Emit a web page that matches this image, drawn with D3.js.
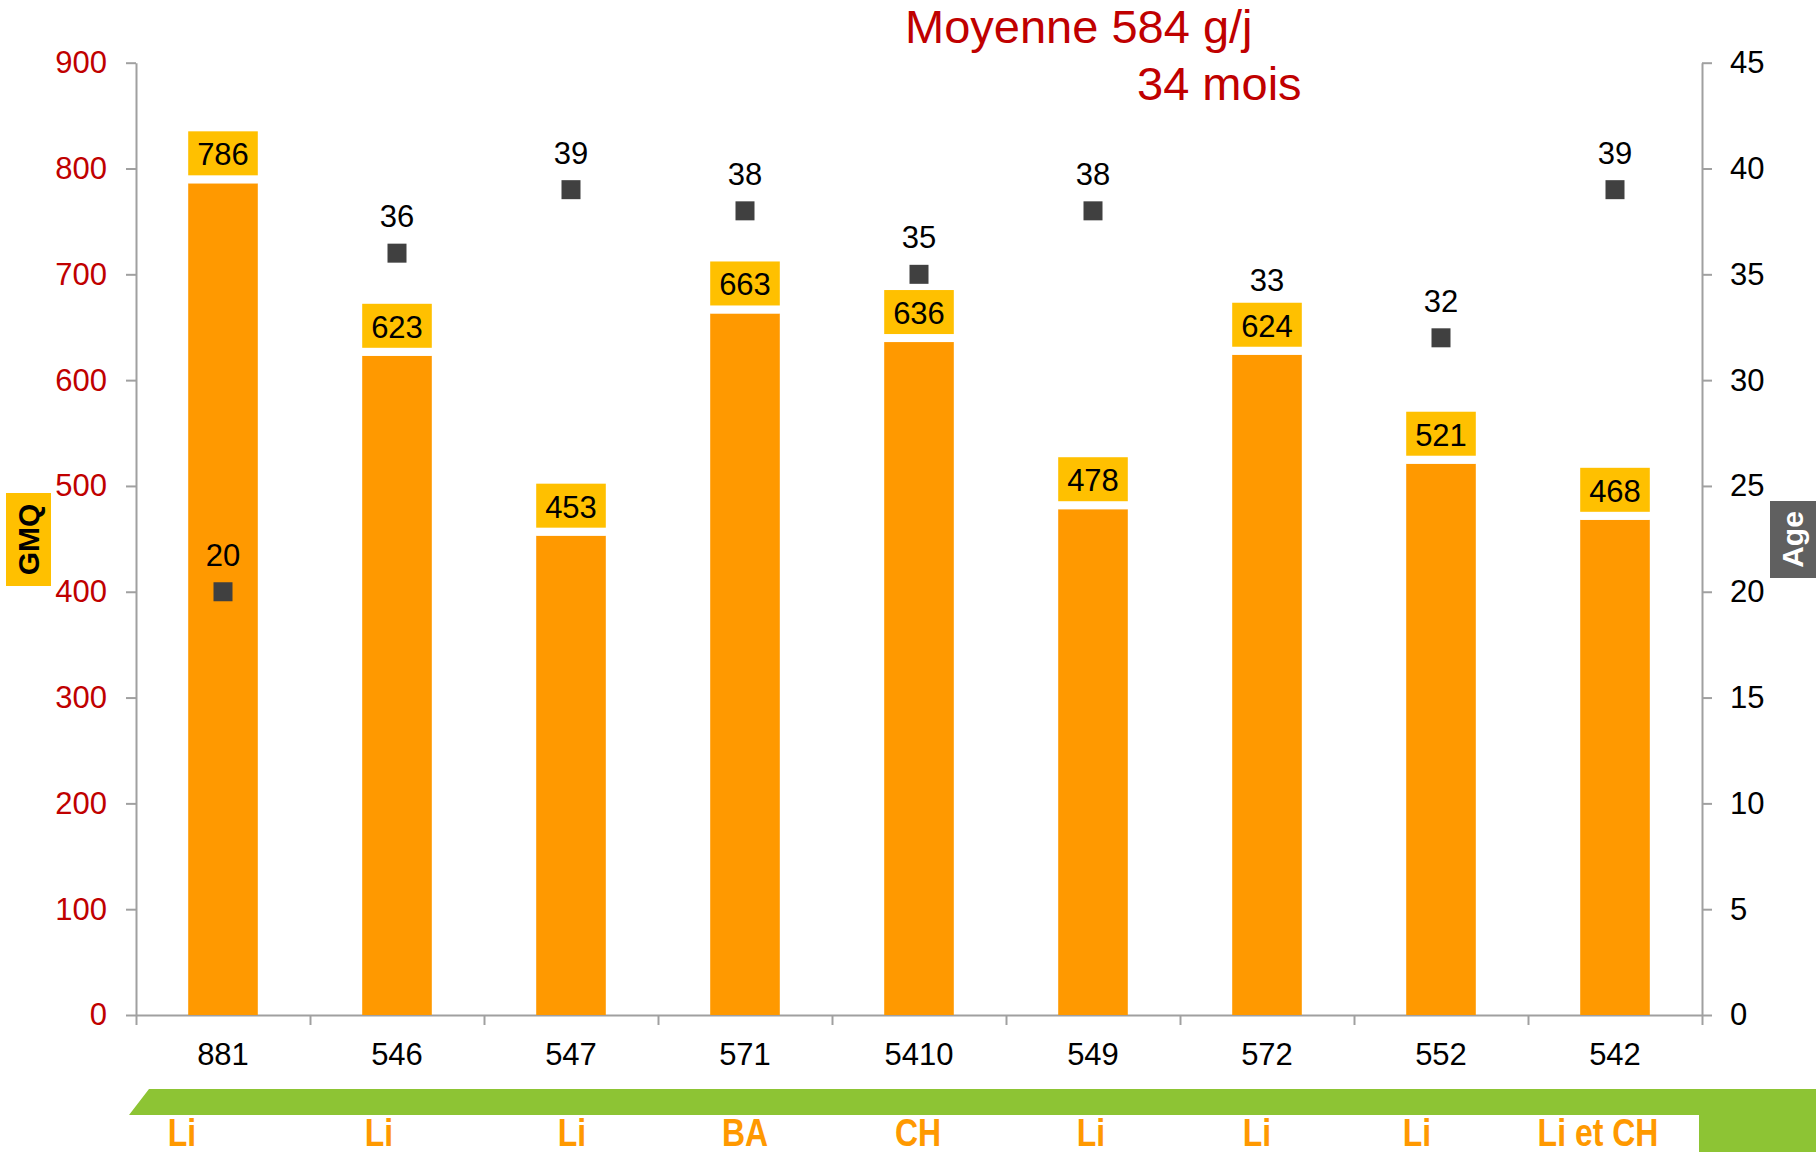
<!DOCTYPE html>
<html>
<head>
<meta charset="utf-8">
<script src="https://cdn.jsdelivr.net/npm/d3@7"></script>
<style>
  html, body { margin: 0; padding: 0; background: #fff; }
  svg { display: block; font-family: "Liberation Sans", Arial, sans-serif; }
</style>
</head>
<body>
<script>
// ---- data ----
const categories = ["881", "546", "547", "571", "5410", "549", "572", "552", "542"];
const gmq = [786, 623, 453, 663, 636, 478, 624, 521, 468];
const age = [20, 36, 39, 38, 35, 38, 33, 32, 39];
const breeds = ["Li", "Li", "Li", "BA", "CH", "Li", "Li", "Li", "Li et CH"];
const leftTicks = [0, 100, 200, 300, 400, 500, 600, 700, 800, 900];
const rightTicks = [0, 5, 10, 15, 20, 25, 30, 35, 40, 45];
const titleLine1 = "Moyenne 584 g/j";
const titleLine2 = "34 mois";
const leftTitle = "GMQ";
const rightTitle = "Age";

// ---- layout ----
const W = 1816, H = 1152;
const plot = { left: 136, right: 1702, top: 62.7, bottom: 1015 };
const breedOffsets = [-41, -18, 1, 0, -1, -2, -10, -24, -17];

const svg = d3.select("body").append("svg").attr("width", W).attr("height", H);

const x = d3.scaleBand().domain(categories).range([plot.left, plot.right]).padding(0);
const yL = d3.scaleLinear().domain([0, 900]).range([plot.bottom, plot.top]);
const yR = d3.scaleLinear().domain([0, 45]).range([plot.bottom, plot.top]);
const xIdx = d3.scaleLinear().domain([0, categories.length]).range([plot.left, plot.right]);

const axisColor = "#A0A0A0";
const red = "#C00000";

// Left axis
const gL = svg.append("g").attr("transform", `translate(${plot.left},0)`)
  .call(d3.axisLeft(yL).tickValues(leftTicks).tickSize(10).tickPadding(19).tickSizeOuter(0));
gL.select(".domain").attr("stroke", axisColor).attr("stroke-width", 2);
gL.selectAll(".tick line").attr("stroke", axisColor).attr("stroke-width", 2);
gL.selectAll(".tick text").attr("fill", red).attr("font-size", 31)
  .attr("font-family", "'Liberation Sans', Arial, sans-serif");

// Right axis
const gR = svg.append("g").attr("transform", `translate(${plot.right},0)`)
  .call(d3.axisRight(yR).tickValues(rightTicks).tickSize(10).tickPadding(18).tickSizeOuter(0));
gR.select(".domain").attr("stroke", axisColor).attr("stroke-width", 2);
gR.selectAll(".tick line").attr("stroke", axisColor).attr("stroke-width", 2);
gR.selectAll(".tick text").attr("fill", "#000").attr("font-size", 31)
  .attr("font-family", "'Liberation Sans', Arial, sans-serif");

// Bottom axis (ticks at band boundaries)
const gB = svg.append("g").attr("transform", `translate(0,${plot.bottom})`)
  .call(d3.axisBottom(xIdx).tickValues(d3.range(categories.length + 1)).tickSize(10).tickFormat("").tickSizeOuter(0));
gB.select(".domain").attr("stroke", axisColor).attr("stroke-width", 2);
gB.selectAll(".tick line").attr("stroke", axisColor).attr("stroke-width", 2);

// Category labels
svg.append("g").selectAll("text").data(categories).join("text")
  .attr("x", d => x(d) + x.bandwidth() / 2)
  .attr("y", 1065)
  .attr("text-anchor", "middle")
  .attr("font-size", 31)
  .attr("fill", "#000")
  .text(d => d);

// Bars
const barW = x.bandwidth() * 0.4;
svg.append("g").selectAll("rect").data(gmq).join("rect")
  .attr("x", (d, i) => x(categories[i]) + (x.bandwidth() - barW) / 2)
  .attr("y", d => yL(d))
  .attr("width", barW)
  .attr("height", d => yL(0) - yL(d))
  .attr("fill", "#FF9900");

// Age markers (drawn under the data labels)
const mk = 19;
svg.append("g").selectAll("rect").data(age).join("rect")
  .attr("x", (d, i) => x(categories[i]) + x.bandwidth() / 2 - mk / 2)
  .attr("y", d => yR(d) - mk / 2)
  .attr("width", mk)
  .attr("height", mk)
  .attr("fill", "#404040");

// Bar value labels with boxes (with white gap to the bar)
const lab = svg.append("g").selectAll("g").data(gmq).join("g");
lab.append("rect")
  .attr("x", (d, i) => x(categories[i]) + (x.bandwidth() - barW) / 2)
  .attr("y", d => yL(d) - 8)
  .attr("width", barW)
  .attr("height", 8)
  .attr("fill", "#fff");
lab.append("rect")
  .attr("x", (d, i) => x(categories[i]) + (x.bandwidth() - barW) / 2)
  .attr("y", d => yL(d) - 8 - 44)
  .attr("width", barW)
  .attr("height", 44)
  .attr("fill", "#FFC000");
lab.append("text")
  .attr("x", (d, i) => x(categories[i]) + x.bandwidth() / 2)
  .attr("y", d => yL(d) - 18)
  .attr("text-anchor", "middle")
  .attr("font-size", 31)
  .attr("fill", "#000")
  .text(d => d);

// Age labels
svg.append("g").selectAll("text").data(age).join("text")
  .attr("x", (d, i) => x(categories[i]) + x.bandwidth() / 2)
  .attr("y", d => yR(d) - 26)
  .attr("text-anchor", "middle")
  .attr("font-size", 31)
  .attr("fill", "#000")
  .text(d => d);

// Title
svg.append("text").attr("x", 905).attr("y", 43).attr("font-size", 47).attr("fill", red).text(titleLine1);
svg.append("text").attr("x", 1137).attr("y", 100).attr("font-size", 47).attr("fill", red).text(titleLine2);

// Axis titles
svg.append("rect").attr("x", 6).attr("y", 493).attr("width", 45).attr("height", 93).attr("fill", "#FFC000");
svg.append("text")
  .attr("transform", `translate(39,539.5) rotate(-90)`)
  .attr("text-anchor", "middle")
  .attr("font-size", 30).attr("font-weight", "bold").attr("fill", "#000")
  .text(leftTitle);
svg.append("rect").attr("x", 1770).attr("y", 501).attr("width", 46).attr("height", 77).attr("fill", "#606060");
svg.append("text")
  .attr("transform", `translate(1803,539.5) rotate(-90)`)
  .attr("text-anchor", "middle")
  .attr("font-size", 30).attr("font-weight", "bold").attr("fill", "#fff")
  .text(rightTitle);

// Green band at bottom
const green = "#8DC434";
svg.append("path")
  .attr("d", `M149,1089 L${W},1089 L${W},${H} L1699,${H} L1699,1115 L129,1115 Z`)
  .attr("fill", green);

// Breed labels
svg.append("g").selectAll("text").data(breeds).join("text")
  .attr("transform", (d, i) => `translate(${x(categories[i]) + x.bandwidth() / 2 + breedOffsets[i]},1146) scale(0.82,1)`)
  .attr("text-anchor", "middle")
  .attr("font-size", 39)
  .attr("font-weight", "bold")
  .attr("fill", "#FF9900")
  .text(d => d);
</script>
</body>
</html>
